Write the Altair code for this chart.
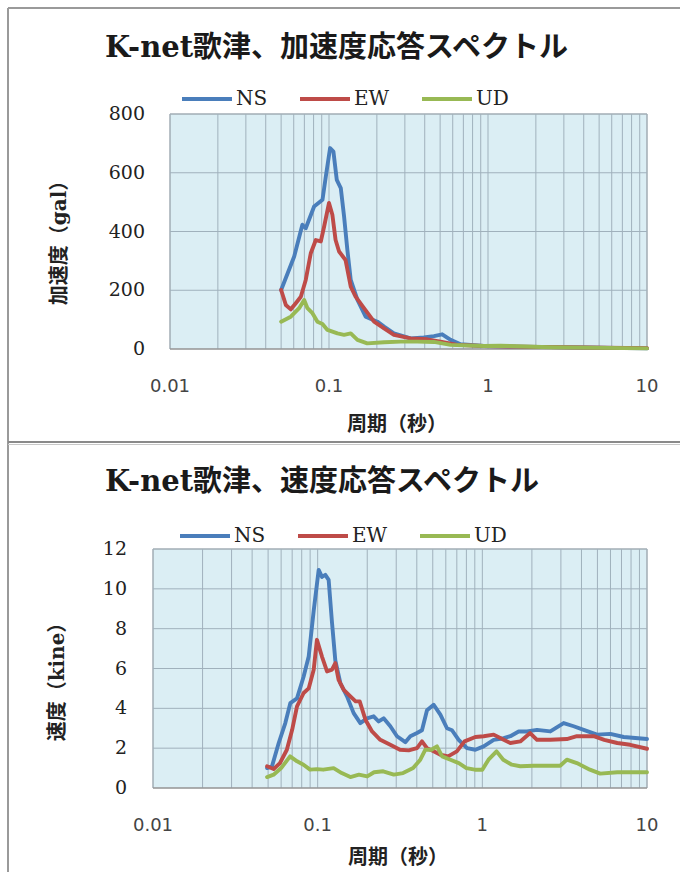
import altair as alt
import pandas as pd

# ---------------- data ----------------
series = ["NS", "EW", "UD"]
series_colors = ["#4a7ebb", "#be4b48", "#98b954"]

acc_title = "K-net歌津、加速度応答スペクトル"
vel_title = "K-net歌津、速度応答スペクトル"
x_title = "周期（秒）"
acc_y_title = "加速度（gal）"
vel_y_title = "速度（kine）"

# acceleration response spectrum (gal)
acc_ns_T = [0.05, 0.0604, 0.068, 0.0714, 0.0806, 0.091, 0.0955, 0.1016, 0.1066, 0.1119, 0.1186,
            0.1244, 0.1305, 0.137, 0.151, 0.17, 0.2015, 0.222, 0.256, 0.326, 0.395, 0.457, 0.515,
            0.582, 0.672, 0.942, 1.52, 4.0, 10.0]
acc_ns_v = [201, 315, 423, 411, 485, 508, 587, 684, 672, 576, 548,
            451, 337, 235, 167, 110, 93, 76, 53, 36, 39, 44, 50,
            31, 16, 10, 8, 5, 2]

acc_ew_T = [0.05, 0.0535, 0.0575, 0.0618, 0.0665, 0.0714, 0.0768, 0.0826, 0.0888, 0.0932, 0.1,
            0.105, 0.11, 0.1157, 0.127, 0.137, 0.147, 0.166, 0.192, 0.222, 0.256, 0.326, 0.415,
            0.503, 0.641, 0.942, 1.52, 4.0, 10.0]
acc_ew_v = [201, 150, 135, 156, 178, 235, 326, 371, 366, 417, 497,
            457, 371, 332, 303, 212, 178, 139, 93, 70, 48, 36, 33,
            25, 14, 10, 8, 5, 3]

acc_ud_T = [0.05, 0.0575, 0.0649, 0.0698, 0.0732, 0.0787, 0.0846, 0.091, 0.0978, 0.113, 0.1244,
            0.137, 0.151, 0.174, 0.222, 0.282, 0.359, 0.457, 0.582, 0.942, 1.2, 2.47, 10.0]
acc_ud_v = [93, 110, 139, 167, 139, 122, 93, 85, 65, 53, 48,
            53, 31, 19, 23, 25, 25, 24, 14, 10, 11, 6, 2]

# velocity response spectrum (kine)
vel_ns_T = [0.0493, 0.0528, 0.058, 0.0636, 0.0682, 0.0749, 0.0822, 0.0882, 0.0946, 0.1014, 0.1062,
            0.1113, 0.1166, 0.1222, 0.128, 0.1373, 0.1507, 0.1654, 0.1816, 0.1993, 0.2188, 0.2346,
            0.2516, 0.2762, 0.3032, 0.3407, 0.3654, 0.401, 0.43, 0.4613, 0.5064, 0.556, 0.61,
            0.6543, 0.7183, 0.807, 0.907, 1.019, 1.172, 1.348, 1.479, 1.662, 1.868, 2.148, 2.588,
            3.118, 3.586, 4.125, 4.971, 5.99, 7.215, 10.0]
vel_ns_v = [1.0, 1.09, 2.26, 3.26, 4.26, 4.5, 5.6, 6.6, 8.9, 10.95, 10.6,
            10.7, 10.45, 8.3, 6.4, 5.27, 4.6, 3.76, 3.26, 3.5, 3.6, 3.34,
            3.5, 3.1, 2.6, 2.3, 2.6, 2.76, 2.9, 3.9, 4.18, 3.68, 3.0,
            2.9, 2.42, 2.0, 1.92, 2.09, 2.42, 2.5, 2.6, 2.84, 2.84, 2.92, 2.84,
            3.26, 3.1, 2.92, 2.68, 2.72, 2.56, 2.46]

vel_ew_T = [0.0493, 0.054, 0.059, 0.065, 0.07, 0.0749, 0.0822, 0.0882, 0.0946, 0.099, 0.1062,
            0.114, 0.1222, 0.128, 0.134, 0.144, 0.158, 0.17, 0.18, 0.195, 0.214, 0.24, 0.276,
            0.316, 0.357, 0.401, 0.43, 0.4613, 0.5064, 0.556, 0.62, 0.70, 0.78, 0.907, 1.019,
            1.172, 1.348, 1.479, 1.7, 1.95, 2.148, 2.588, 3.26, 3.75, 4.75, 5.5, 6.6, 7.9, 10.0]
vel_ew_v = [1.09, 0.95, 1.25, 1.92, 2.92, 4.1, 4.77, 5.0, 5.94, 7.44, 6.6,
            5.85, 5.94, 6.27, 5.43, 4.93, 4.6, 4.35, 4.35, 3.43, 2.84, 2.42, 2.17,
            1.92, 1.89, 2.0, 2.34, 2.0, 1.84, 1.67, 1.59, 1.84, 2.34, 2.56, 2.6,
            2.68, 2.42, 2.26, 2.34, 2.76, 2.42, 2.42, 2.46, 2.6, 2.6, 2.42, 2.26, 2.17, 1.97]

vel_ud_T = [0.0493, 0.054, 0.06, 0.068, 0.075, 0.082, 0.09, 0.099, 0.108, 0.125, 0.14,
            0.158, 0.178, 0.2, 0.22, 0.25, 0.29, 0.33, 0.38, 0.42, 0.45, 0.49, 0.53,
            0.57, 0.64, 0.72, 0.8, 0.9, 1.0, 1.09, 1.22, 1.34, 1.51, 1.7, 2.05, 2.58,
            2.97, 3.26, 3.75, 4.5, 5.2, 6.6, 10.0]
vel_ud_v = [0.55, 0.67, 1.0, 1.59, 1.34, 1.17, 0.92, 0.95, 0.92, 1.0, 0.75,
            0.55, 0.67, 0.58, 0.79, 0.84, 0.67, 0.75, 1.0, 1.42, 1.92, 1.92, 2.09,
            1.59, 1.42, 1.25, 1.0, 0.92, 0.92, 1.42, 1.84, 1.42, 1.17, 1.09, 1.12, 1.12,
            1.12, 1.42, 1.25, 0.92, 0.72, 0.79, 0.79]

x_grid_values = [0.01, 0.02, 0.03, 0.04, 0.05, 0.06, 0.07, 0.08, 0.09,
                 0.1, 0.2, 0.3, 0.4, 0.5, 0.6, 0.7, 0.8, 0.9,
                 1, 2, 3, 4, 5, 6, 7, 8, 9, 10]
x_label_values = [0.01, 0.1, 1, 10]
acc_y_ticks = [0, 200, 400, 600, 800]
vel_y_ticks = [0, 2, 4, 6, 8, 10, 12]


def long_frame(parts):
    rows = []
    for name, T, v in parts:
        for t, val in zip(T, v):
            rows.append({"series": name, "T": t, "v": val})
    return pd.DataFrame(rows)


acc_df = long_frame([("NS", acc_ns_T, acc_ns_v), ("EW", acc_ew_T, acc_ew_v), ("UD", acc_ud_T, acc_ud_v)])
vel_df = long_frame([("NS", vel_ns_T, vel_ns_v), ("EW", vel_ew_T, vel_ew_v), ("UD", vel_ud_T, vel_ud_v)])

SERIF = "DejaVu Serif, Noto Sans CJK JP"
SANS = "DejaVu Sans"
GRID = "#a0b1bc"
FRAME = "#9a9a9a"
PLOT_BG = "#dbeef4"
ONE = pd.DataFrame({"k": [0]})


def panel(df, title, y_title, y_ticks, y_max, box, title_pos, ytitle_pos, xtitle_pos,
          ylabel_right, xlabel_y, legend_pos):
    left, right, top, bottom = box
    xs = alt.Scale(type="log", domain=[0.01, 10], range=[left, right], nice=False)
    ys = alt.Scale(domain=[0, y_max], range=[bottom, top], nice=False)

    bg = alt.Chart(ONE).mark_rect(fill=PLOT_BG, stroke="#a3a3a3", strokeWidth=1).encode(
        x=alt.X(datum=0.01, scale=xs, axis=None), x2=alt.X2(datum=10),
        y=alt.Y(datum=0, scale=ys, axis=None), y2=alt.Y2(datum=y_max),
    )
    vgrid = alt.Chart(pd.DataFrame({"g": x_grid_values})).mark_rule(color=GRID, strokeWidth=1).encode(
        x=alt.X("g:Q", scale=xs, axis=None),
        y=alt.Y(datum=0, scale=ys, axis=None), y2=alt.Y2(datum=y_max),
    )
    hgrid = alt.Chart(pd.DataFrame({"h": y_ticks[1:]})).mark_rule(color=GRID, strokeWidth=1).encode(
        y=alt.Y("h:Q", scale=ys, axis=None),
        x=alt.X(datum=0.01, scale=xs, axis=None), x2=alt.X2(datum=10),
    )
    axis_line = alt.Chart(ONE).mark_rule(color="#8c8c8c", strokeWidth=1).encode(
        y=alt.Y(datum=0, scale=ys, axis=None),
        x=alt.X(datum=0.01, scale=xs, axis=None), x2=alt.X2(datum=10),
    )
    lines = alt.Chart(df).mark_line(strokeWidth=3.9, strokeJoin="round", strokeCap="round").encode(
        x=alt.X("T:Q", scale=xs, axis=None),
        y=alt.Y("v:Q", scale=ys, axis=None),
        color=alt.Color(
            "series:N",
            scale=alt.Scale(domain=series, range=series_colors),
            sort=series,
            legend=alt.Legend(
                orient="none", legendX=legend_pos[0], legendY=legend_pos[1], direction="horizontal",
                title=None, symbolType="stroke", symbolSize=2500, symbolStrokeWidth=4,
                labelFont=SERIF, labelFontSize=20, labelColor="#222222", labelOffset=2,
                columnPadding=24, padding=0,
            ),
        ),
    )
    xlabels = alt.Chart(pd.DataFrame({"T": x_label_values})).mark_text(
        font=SANS, fontSize=18, color="#444444", baseline="middle", align="center"
    ).encode(
        x=alt.X("T:Q", scale=xs, axis=None),
        y=alt.value(xlabel_y),
        text=alt.Text("T:Q", format="~g"),
    )
    ylabels = alt.Chart(pd.DataFrame({"v": y_ticks})).mark_text(
        font=SERIF, fontSize=19, color="#222222", baseline="middle", align="right"
    ).encode(
        y=alt.Y("v:Q", scale=ys, axis=None),
        x=alt.value(ylabel_right),
        text=alt.Text("v:Q", format="d"),
    )
    texts = pd.DataFrame({"t": [title]})
    title_mark = alt.Chart(texts).mark_text(
        align="left", baseline="middle", font=SERIF, fontSize=29, fontWeight="bold", color="#1a1a1a"
    ).encode(text="t:N", x=alt.value(title_pos[0]), y=alt.value(title_pos[1]))
    xt = alt.Chart(pd.DataFrame({"t": [x_title]})).mark_text(
        align="center", baseline="middle", font=SERIF, fontSize=20, fontWeight="bold", color="#222222"
    ).encode(text="t:N", x=alt.value(xtitle_pos[0]), y=alt.value(xtitle_pos[1]))
    yt = alt.Chart(pd.DataFrame({"t": [y_title]})).mark_text(
        align="center", baseline="middle", font=SERIF, fontSize=20, fontWeight="bold", color="#222222",
        angle=270,
    ).encode(text="t:N", x=alt.value(ytitle_pos[0]), y=alt.value(ytitle_pos[1]))

    return alt.layer(bg, vgrid, hgrid, axis_line, lines, xlabels, ylabels, title_mark, xt, yt)


top = panel(acc_df, acc_title, acc_y_title, acc_y_ticks, 800,
            box=(170, 647, 114, 349), title_pos=(105, 48), ytitle_pos=(60, 238),
            xtitle_pos=(397, 425), ylabel_right=145, xlabel_y=387, legend_pos=(180, 72))
bottom = panel(vel_df, vel_title, vel_y_title, vel_y_ticks, 12,
               box=(153, 647, 549, 788), title_pos=(105, 482), ytitle_pos=(58, 677),
               xtitle_pos=(398, 858), ylabel_right=127, xlabel_y=826, legend_pos=(178, 509))

frame = [
    alt.Chart(ONE).mark_rule(color=FRAME, strokeWidth=2).encode(
        x=alt.value(8), x2=alt.value(680), y=alt.value(8)),
    alt.Chart(ONE).mark_rule(color=FRAME, strokeWidth=2).encode(
        x=alt.value(8), y=alt.value(8), y2=alt.value(872)),
    alt.Chart(ONE).mark_rule(color="#8a8a8a", strokeWidth=2).encode(
        x=alt.value(8), x2=alt.value(680), y=alt.value(442)),
    alt.Chart(ONE).mark_rule(color="#c8c8c8", strokeWidth=1).encode(
        x=alt.value(8), x2=alt.value(680), y=alt.value(444.5)),
]

chart = alt.layer(top, bottom, *frame).resolve_scale(
    x="independent", y="independent", color="independent"
).resolve_legend(color="independent").properties(
    width=680, height=872, padding=0, background="white",
    autosize=alt.AutoSizeParams(type="none"),
).configure_view(fill="white", strokeWidth=0)

chart.save("out.html", embed_options={"renderer": "svg", "actions": False})
